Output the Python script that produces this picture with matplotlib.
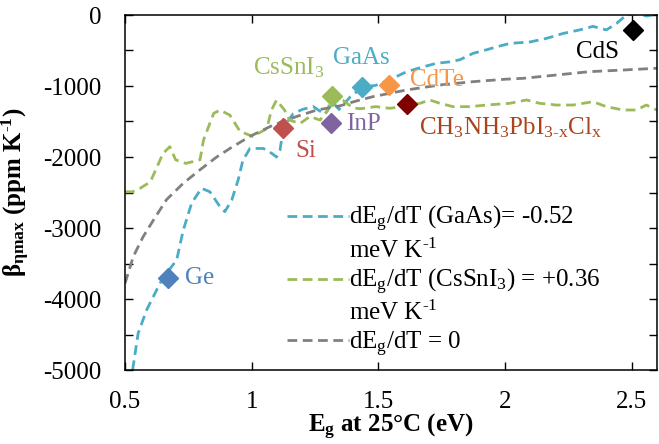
import matplotlib
matplotlib.use("Agg")
import matplotlib.pyplot as plt
from matplotlib.lines import Line2D

plt.rcParams['font.family'] = ['Liberation Serif', 'DejaVu Serif']
plt.rcParams['mathtext.fontset'] = 'custom'
plt.rcParams['mathtext.rm'] = 'Liberation Serif'
plt.rcParams['mathtext.it'] = 'Liberation Serif:italic'
plt.rcParams['mathtext.bf'] = 'Liberation Serif:bold'
plt.rcParams['mathtext.default'] = 'regular'

# temperature coefficient curves (band gap eV, beta ppm/K)
gaas_eg = [0.530, 0.552, 0.586, 0.638, 0.668, 0.704, 0.730, 0.763, 0.802, 0.835,
           0.875, 0.894, 0.921, 0.947, 0.965, 0.993, 1.046, 1.080, 1.098, 1.112,
           1.118, 1.130, 1.164, 1.200, 1.243, 1.289, 1.320, 1.345, 1.390, 1.436,
           1.490, 1.558, 1.611, 1.677, 1.730, 1.782, 1.822, 1.874, 1.927, 1.966,
           2.019, 2.098, 2.163, 2.229, 2.295, 2.347, 2.400, 2.440, 2.479, 2.520,
           2.560, 2.600]
gaas_beta = [-5000, -4480, -4150, -3780, -3620, -3450, -3030, -2650, -2440, -2490,
             -2700, -2770, -2610, -2320, -2050, -1880, -1880, -1950, -2000, -1900,
             -1760, -1560, -1390, -1330, -1290, -1400, -1230, -1330, -1150, -1020,
             -990, -890, -800, -730, -680, -660, -630, -540, -490, -450,
             -400, -380, -330, -260, -210, -160, -210, -120, 0, 15,
             -15, 20]

cssni3_eg = [0.500, 0.530, 0.560, 0.600, 0.650, 0.677, 0.700, 0.740, 0.796, 0.810,
             0.850, 0.875, 0.914, 0.954, 1.005, 1.060, 1.078, 1.098, 1.130, 1.150,
             1.190, 1.230, 1.270, 1.300, 1.316, 1.360, 1.400, 1.430, 1.490, 1.545,
             1.600, 1.664, 1.703, 1.743, 1.795, 1.861, 1.927, 2.019, 2.085, 2.137,
             2.203, 2.268, 2.347, 2.400, 2.466, 2.518, 2.558, 2.600]
cssni3_beta = [-2490, -2490, -2440, -2350, -1950, -1855, -2040, -2090, -2040, -1760,
               -1385, -1340, -1410, -1640, -1710, -1600, -1340, -1200, -1340, -1480,
               -1530, -1430, -1480, -1340, -1140, -1200, -1310, -1320, -1290, -1314,
               -1290, -1244, -1197, -1244, -1291, -1291, -1268, -1244, -1197, -1244,
               -1268, -1268, -1221, -1291, -1338, -1338, -1268, -1340]

flat_eg = [0.500, 0.533, 0.572, 0.612, 0.664, 0.730, 0.796, 0.862, 0.914, 0.993,
           1.085, 1.177, 1.256, 1.348, 1.414, 1.479, 1.611, 1.743, 1.874, 2.000,
           2.071, 2.203, 2.334, 2.466, 2.600]
flat_beta = [-3780, -3400, -3120, -2890, -2600, -2370, -2180, -2000, -1880, -1710,
             -1550, -1430, -1340, -1280, -1210, -1150, -1056, -986, -939, -905,
             -892, -845, -798, -775, -750]

# materials
mat_names = ['Ge', 'Si', 'InP', 'CsSnI$_{3}$', 'GaAs', 'CdTe',
             'CH$_{3}$NH$_{3}$PbI$_{3\\text{-}x}$Cl$_{x}$', 'CdS']
mat_eg = [0.668, 1.124, 1.315, 1.316, 1.436, 1.541, 1.614, 2.504]
mat_beta = [-3710, -1587, -1526, -1136, -1019, -986, -1258, -211]
mat_colors = ['#4f81bd', '#c0504d', '#8064a2', '#9bbb59', '#4bacc6', '#f79646',
              '#800000', '#000000']
label_colors = ['#4f81bd', '#c0504d', '#8064a2', '#9bbb59', '#4bacc6', '#f79646',
                '#a8451c', '#000000']
label_x = [0.796, 1.214, 1.443, 1.147, 1.431, 1.731, 1.660, 2.366]
label_y = [-3700, -1915, -1535, -746, -606, -915, -1592, -521]
label_ha = ['center', 'center', 'center', 'center', 'center', 'center', 'left', 'center']

xtick_vals = [0.5, 1, 1.5, 2, 2.5]
xtick_labels = ['0.5', '1', '1.5', '2', '2.5']
ytick_vals = [-5000, -4000, -3000, -2000, -1000, 0]
ytick_labels = ['-5000', '-4000', '-3000', '-2000', '-1000', '0']
ytick_minor = [-4500, -3500, -2500, -1500, -500]

legend_labels = ['dE$_{g}$/dT (GaAs)= -0.52', 'meV K$^{\\text{-}1}$',
                 'dE$_{g}$/dT (CsSnI$_{3}$) = +0.36', 'meV K$^{\\text{-}1}$',
                 'dE$_{g}$/dT = 0']

blue = '#4bacc6'
green = '#9bbb59'
grey = '#808080'
dash = (0, (3.5, 2.0))
fs = 18

fig = plt.figure(figsize=(6.59, 4.44), dpi=100)
ax = fig.add_axes([125 / 659, 74 / 444, 532 / 659, 355 / 444])

ax.plot(gaas_eg, gaas_beta, color=blue, lw=2, ls=dash, zorder=2)
ax.plot(cssni3_eg, cssni3_beta, color=green, lw=2, ls=dash, zorder=2)
ax.plot(flat_eg, flat_beta, color=grey, lw=2, ls=dash, zorder=2)

for i in range(len(mat_names)):
    ax.plot(mat_eg[i], mat_beta[i], marker='D', ms=10, color=mat_colors[i],
            mec=mat_colors[i], ls='none', zorder=4)
    ax.text(label_x[i], label_y[i], mat_names[i], color=label_colors[i],
            fontsize=fs, ha=label_ha[i], va='center', zorder=5)

ax.set_xlim(0.5, 2.6)
ax.set_ylim(-5000, 0)
ax.set_xticks(xtick_vals)
ax.set_xticklabels(xtick_labels)
ax.set_yticks(ytick_vals)
ax.set_yticklabels(ytick_labels)
ax.set_yticks(ytick_minor, minor=True)
ax.tick_params(which='both', direction='in', top=True, right=True,
               length=6, width=1, labelsize=fs)
ax.tick_params(axis='x', pad=15)
ax.tick_params(axis='y', pad=17)
for s in ax.spines.values():
    s.set_linewidth(1.1)

ax.set_xlabel('E$_{g}$ at 25°C (eV)', fontsize=fs, fontweight='bold', labelpad=-1)
ax.set_ylabel('β$_{ηmax}$ (ppm K$^{\\text{-}1}$)', fontsize=fs, fontweight='bold', labelpad=8)

handles = [Line2D([], [], color=blue, lw=2, ls=dash),
           Line2D([], [], ls='none'),
           Line2D([], [], color=green, lw=2, ls=dash),
           Line2D([], [], ls='none'),
           Line2D([], [], color=grey, lw=2, ls=dash)]
ax.legend(handles, legend_labels, loc='upper left', bbox_to_anchor=(0.3045, 0.468),
          frameon=False, fontsize=fs, handlelength=2.5, handletextpad=0,
          borderpad=0, borderaxespad=0, labelspacing=0.17)

fig.savefig('out.png', dpi=100)
